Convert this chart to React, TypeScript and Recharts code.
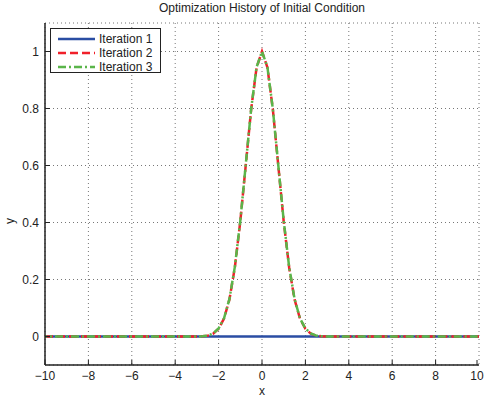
import React from 'react';
import { LineChart, Line, XAxis, YAxis, CartesianGrid } from 'recharts';

const xValues = [-10, -9, -8, -7, -6, -5, -4, -3.5, -3, -2.75, -2.5, -2.25, -2, -1.75, -1.5, -1.25, -1, -0.75, -0.5, -0.25, 0, 0.25, 0.5, 0.75, 1, 1.25, 1.5, 1.75, 2, 2.25, 2.5, 2.75, 3, 3.5, 4, 5, 6, 7, 8, 9, 10];
const iteration1 = [0, 0, 0, 0, 0, 0, 0, 0, 0, 0, 0, 0, 0, 0, 0, 0, 0, 0, 0, 0, 0, 0, 0, 0, 0, 0, 0, 0, 0, 0, 0, 0, 0, 0, 0, 0, 0, 0, 0, 0, 0];
const iteration2 = [0, 0, 0, 0, 0, 0, 0, 0, 0, 0.001, 0.003, 0.01, 0.027, 0.063, 0.13, 0.243, 0.404, 0.6, 0.797, 0.944, 1.0, 0.944, 0.797, 0.6, 0.404, 0.243, 0.13, 0.063, 0.027, 0.01, 0.003, 0.001, 0, 0, 0, 0, 0, 0, 0, 0, 0];
const iteration3 = [0, 0, 0, 0, 0, 0, 0, 0, 0, 0.001, 0.003, 0.011, 0.028, 0.064, 0.132, 0.245, 0.406, 0.602, 0.798, 0.945, 1.0, 0.945, 0.798, 0.602, 0.406, 0.245, 0.132, 0.064, 0.028, 0.011, 0.003, 0.001, 0, 0, 0, 0, 0, 0, 0, 0, 0];
const xTicks = [-10, -8, -6, -4, -2, 0, 2, 4, 6, 8, 10];
const yTicks = [0, 0.2, 0.4, 0.6, 0.8, 1];
const seriesNames = ['Iteration 1', 'Iteration 2', 'Iteration 3'];

const data = xValues.map((x, i) => ({ x, it1: iteration1[i], it2: iteration2[i], it3: iteration3[i] }));

const FONT = '"Liberation Sans", Arial, sans-serif';
const INK = '#222';
const BLUE = '#2a4da3';
const RED = '#f0202a';
const GREEN = '#5ab54a';

const fmt = (v: number) => (v < 0 ? '\u2212' + Math.abs(v) : String(v));

const BottomTick = (p: any) => (
  <g>
    <line x1={p.x} y1={p.y} x2={p.x} y2={p.y - 5} stroke={INK} />
    <text x={p.x} y={p.y + 15} textAnchor="middle" fontSize={12} fill={INK} fontFamily={FONT}>{fmt(p.payload.value)}</text>
  </g>
);
const TopTick = (p: any) => (
  <line x1={p.x} y1={p.y} x2={p.x} y2={p.y + 5} stroke={INK} />
);
const LeftTick = (p: any) => (
  <g>
    <line x1={p.x} y1={p.y} x2={p.x + 5} y2={p.y} stroke={INK} />
    <text x={p.x - 6} y={p.y + 4} textAnchor="end" fontSize={12} fill={INK} fontFamily={FONT}>{fmt(p.payload.value)}</text>
  </g>
);
const RightTick = (p: any) => (
  <line x1={p.x} y1={p.y} x2={p.x - 5} y2={p.y} stroke={INK} />
);

const legendStyles = [
  { color: BLUE, dash: undefined as string | undefined },
  { color: RED, dash: '8 4' },
  { color: GREEN, dash: '8 3 2 3' },
];

const LegendBox = () => (
  <svg width={111} height={45} style={{ display: 'block' }}>
    <rect x={0.5} y={0.5} width={110} height={44} fill="#fff" stroke={INK} />
    {seriesNames.map((n, i) => (
      <g key={n}>
        <line x1={8} x2={45} y1={11 + i * 14} y2={11 + i * 14} stroke={legendStyles[i].color} strokeWidth={2.5} strokeDasharray={legendStyles[i].dash} />
        <text x={49} y={15 + i * 14} fontSize={12} fill={INK} fontFamily={FONT}>{n}</text>
      </g>
    ))}
  </svg>
);

export default function App() {
  return (
    <div style={{ position: 'absolute', left: 0, top: 0, width: 485, height: 403, background: '#fff', fontFamily: FONT }}>
      <LineChart width={485} height={403} data={data} margin={{ top: 23, right: 6, left: 0, bottom: 0 }}>
        <CartesianGrid stroke="#777" strokeDasharray="1 3" />
        <XAxis dataKey="x" type="number" domain={[-10, 10]} ticks={xTicks} height={38} tickSize={0} tickMargin={0} tick={<BottomTick />} axisLine={{ stroke: INK, strokeWidth: 1.5 }} allowDataOverflow />
        <XAxis xAxisId="top" orientation="top" dataKey="x" type="number" domain={[-10, 10]} ticks={xTicks} height={0} tickSize={0} tickMargin={0} tick={<TopTick />} axisLine={{ stroke: INK, strokeWidth: 1.5 }} />
        <YAxis type="number" domain={[-0.1, 1.1]} ticks={yTicks} width={45} tickSize={0} tickMargin={0} tick={<LeftTick />} axisLine={{ stroke: INK, strokeWidth: 1.5 }} allowDataOverflow />
        <YAxis yAxisId="right" orientation="right" type="number" domain={[-0.1, 1.1]} ticks={yTicks} width={0} tickSize={0} tickMargin={0} tick={<RightTick />} axisLine={{ stroke: INK, strokeWidth: 1.5 }} />
        <Line dataKey="it1" name={seriesNames[0]} stroke={BLUE} strokeWidth={2.5} dot={false} isAnimationActive={false} />
        <Line dataKey="it2" name={seriesNames[1]} stroke={RED} strokeWidth={2.5} strokeDasharray="8 4" dot={false} isAnimationActive={false} />
        <Line dataKey="it3" name={seriesNames[2]} stroke={GREEN} strokeWidth={2.5} strokeDasharray="8 3 2 3" strokeDashoffset={6} dot={false} isAnimationActive={false} />
      </LineChart>
      <div style={{ position: 'absolute', left: 45, width: 434, top: 1, textAlign: 'center', fontSize: 12, color: INK }}>
        Optimization History of Initial Condition
      </div>
      <div style={{ position: 'absolute', left: 45, width: 434, top: 384, textAlign: 'center', fontSize: 12, color: INK }}>x</div>
      <div style={{ position: 'absolute', left: 7, top: 214, fontSize: 12, color: INK, transform: 'rotate(-90deg)' }}>y</div>
      <div style={{ position: 'absolute', left: 50, top: 28 }}>
        <LegendBox />
      </div>
    </div>
  );
}
